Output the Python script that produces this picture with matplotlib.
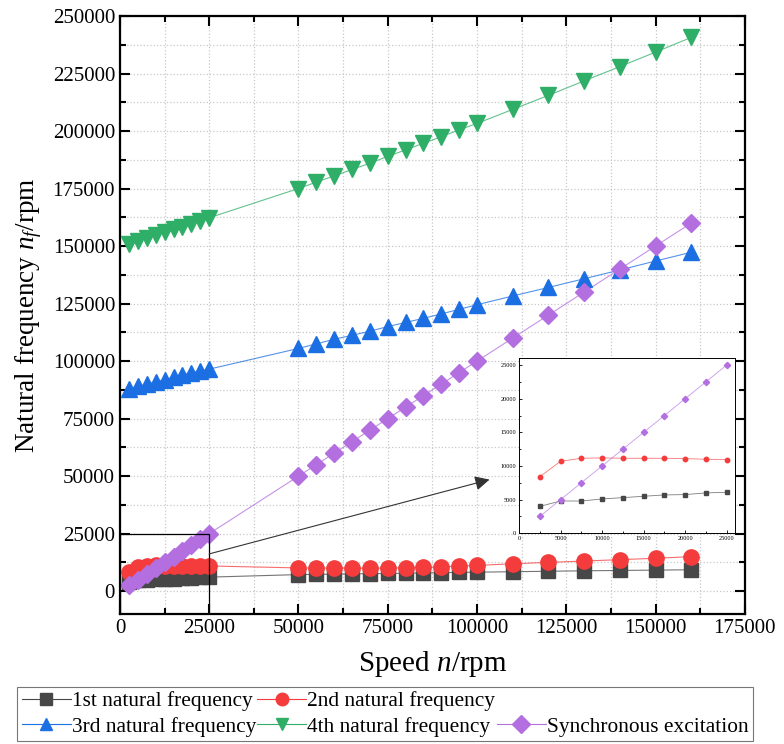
import matplotlib
matplotlib.use("Agg")
import matplotlib.pyplot as plt
from matplotlib.lines import Line2D
from matplotlib.patches import Rectangle
from matplotlib.ticker import MultipleLocator

plt.rcParams["font.family"] = ["Liberation Serif", "DejaVu Serif"]
plt.rcParams["mathtext.fontset"] = "custom"
plt.rcParams["mathtext.rm"] = "Liberation Serif"
plt.rcParams["mathtext.it"] = "Liberation Serif:italic"

# rotor speed (rpm)
speed = [2500, 5000, 7500, 10000, 12500, 15000, 17500, 20000, 22500, 25000,
         50000, 55000, 60000, 65000, 70000, 75000, 80000, 85000, 90000, 95000,
         100000, 110000, 120000, 130000, 140000, 150000, 160000]

# natural frequencies (rpm)
f1 = [4000, 4800, 4800, 5100, 5300, 5500, 5700, 5750, 6000, 6100,
      7200, 7300, 7400, 7500, 7600, 7700, 7800, 7950, 8050, 8150,
      8250, 8450, 8650, 8850, 9000, 9150, 9300]
f2 = [8400, 10700, 11150, 11200, 11150, 11150, 11150, 11100, 11000, 10950,
      10100, 10050, 10000, 9950, 10000, 10050, 10150, 10300, 10600, 10900,
      11200, 11900, 12500, 13100, 13700, 14300, 15000]
f3 = [88000, 89000, 90000, 91000, 92000, 93000, 94000, 95000, 95800, 96500,
      105500, 107500, 109500, 111200, 113000, 115000, 116800, 118600, 120500, 122500,
      124500, 128300, 132000, 135800, 139600, 143500, 147300]
f4 = [151000, 152200, 153500, 154700, 156000, 157200, 158500, 159700, 161000, 162300,
      175000, 177800, 180500, 183300, 186000, 189000, 191800, 194700, 197500, 200500,
      203300, 209400, 215500, 221800, 228000, 234300, 240700]
sync = [2500, 5000, 7500, 10000, 12500, 15000, 17500, 20000, 22500, 25000,
        50000, 55000, 60000, 65000, 70000, 75000, 80000, 85000, 90000, 95000,
        100000, 110000, 120000, 130000, 140000, 150000, 160000]

labels = ["1st natural frequency", "2nd natural frequency", "3rd natural frequency",
          "4th natural frequency", "Synchronous excitation"]
colors = ["#474747", "#f53c3c", "#1c6fe3", "#2fae68", "#b36ee0"]
markers = ["s", "o", "^", "v", "D"]
msizes = [10, 11, 11, 11, 9]
series = [f1, f2, f3, f4, sync]

n_zoom = 10  # points up to 25000 rpm shown in the inset

fig = plt.figure(figsize=(7.84, 7.44), dpi=100)
ax = fig.add_axes([0.153, 0.1745, 0.797, 0.804])

handles = []
for y, c, m, ms, lab in zip(series, colors, markers, msizes, labels):
    ax.plot(speed, y, color=c, lw=0.8, alpha=0.75, zorder=2)
    ax.plot(speed, y, ls="none", marker=m, ms=ms, color=c, mec=c, zorder=3)
    handles.append(Line2D([], [], color=c, lw=0.8, marker=m, ms=9, mec=c, label=lab))

ax.set_xlim(0, 175000)
ax.set_ylim(-10000, 250000)
ax.xaxis.set_major_locator(MultipleLocator(25000))
ax.xaxis.set_minor_locator(MultipleLocator(12500))
ax.yaxis.set_major_locator(MultipleLocator(25000))
ax.yaxis.set_minor_locator(MultipleLocator(12500))
ax.tick_params(which="both", direction="in", top=True, right=True, labelsize=15, width=1.5)
ax.tick_params(which="major", length=7)
ax.tick_params(which="minor", length=4)
ax.grid(which="both", color="#c8c8c8", ls=":", lw=0.9)
ax.set_axisbelow(True)
for s in ax.spines.values():
    s.set_linewidth(1.6)

ax.set_xlabel("Speed $n$/rpm", fontsize=21, labelpad=8)
ax.set_ylabel("Natural frequency $n_f$/rpm", fontsize=19.5, labelpad=6)

# zoom box around the low-speed region and pointer to the inset
ax.add_patch(Rectangle((0, -10000), 25000, 35000, fill=False, ec="black", lw=0.9, zorder=4))
ax.annotate("", xy=(103500, 48500), xytext=(25000, 16200),
            arrowprops=dict(arrowstyle="-|>", color="#333333", lw=0.8,
                            mutation_scale=22, shrinkA=0, shrinkB=0), zorder=4)

# inset: low-speed detail
ins = fig.add_axes([0.662, 0.2832, 0.2755, 0.2352])
for y, c, m in zip([f1, f2, sync], [colors[0], colors[1], colors[4]], ["s", "o", "D"]):
    ins.plot(speed[:n_zoom], y[:n_zoom], color=c, lw=0.6, alpha=0.7)
    ins.plot(speed[:n_zoom], y[:n_zoom], ls="none", marker=m, ms=3.2, color=c, mec=c)
ins.set_xlim(0, 26000)
ins.set_ylim(0, 26000)
ins.xaxis.set_major_locator(MultipleLocator(5000))
ins.xaxis.set_minor_locator(MultipleLocator(2500))
ins.yaxis.set_major_locator(MultipleLocator(5000))
ins.yaxis.set_minor_locator(MultipleLocator(2500))
ins.tick_params(which="both", direction="in", labelsize=4.5, width=0.6, pad=2)
ins.tick_params(which="major", length=2.5)
ins.tick_params(which="minor", length=1.5)
for s in ins.spines.values():
    s.set_linewidth(0.7)

blank = Line2D([], [], ls="none", label=" ")
order = [handles[0], handles[2], handles[1], handles[3], blank, handles[4]]
leg = fig.legend(handles=order, labels=[h.get_label() for h in order], ncol=3,
                 loc="lower left", bbox_to_anchor=(0.022, 0.004), fontsize=15.4,
                 frameon=True, fancybox=False, edgecolor="#555555",
                 handlelength=2.3, handletextpad=0.05, columnspacing=0.05,
                 labelspacing=0.25, borderpad=0.2, borderaxespad=0)
leg.get_frame().set_linewidth(0.8)

fig.savefig("out.png", dpi=100)
